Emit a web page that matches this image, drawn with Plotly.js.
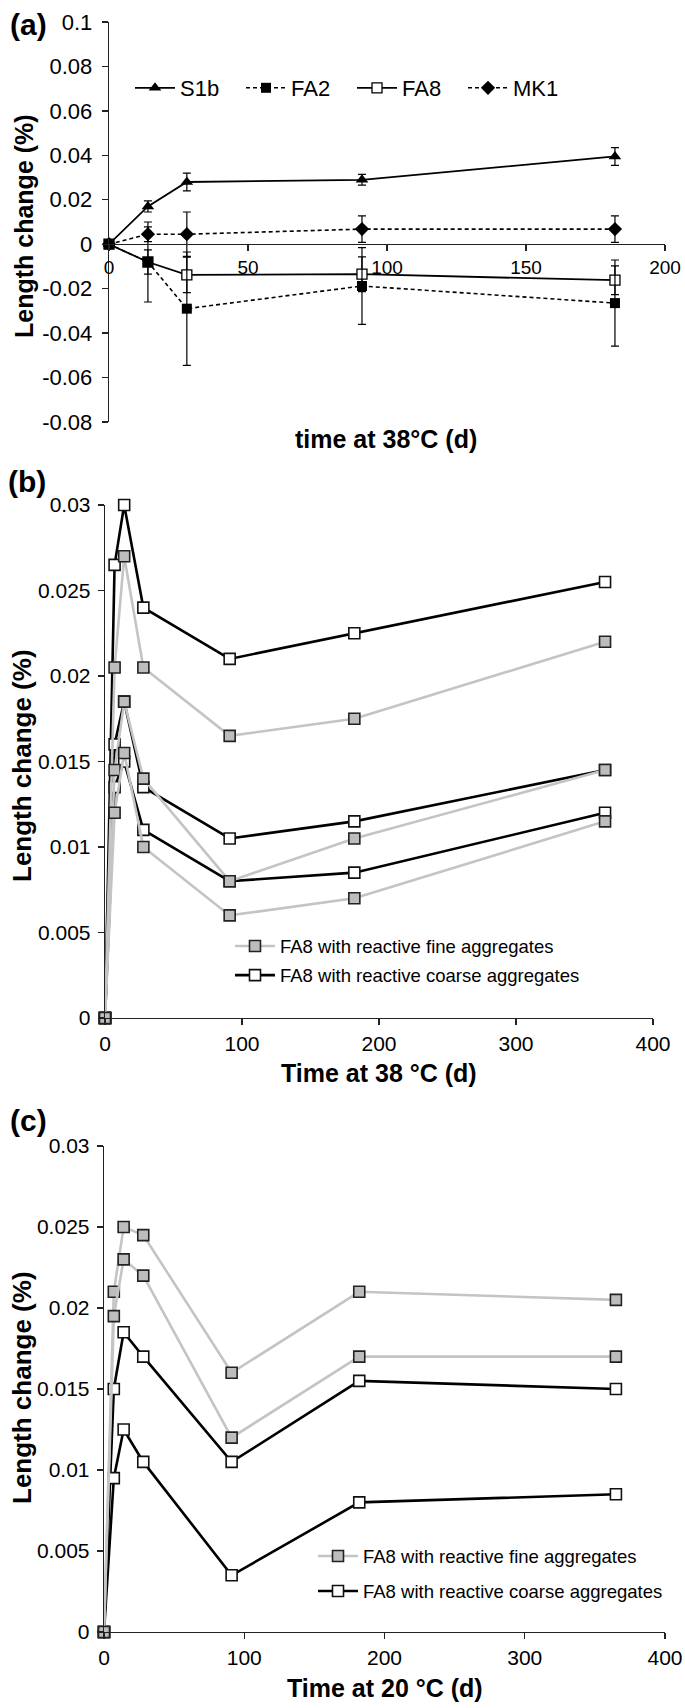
<!DOCTYPE html>
<html><head><meta charset="utf-8">
<script src="https://cdn.plot.ly/plotly-3.0.1.min.js"></script>
<style>
html,body{margin:0;padding:0;background:#fff}
#chart{width:685px;height:1708px}
</style>
</head><body><div id="chart"></div><script>
// ---------- Panel (a) data ----------
const daysA = [0, 14, 28, 91, 182];
const s1b = [0, 0.017, 0.028, 0.029, 0.0395];
const s1bErr = [0, 0.0025, 0.004, 0.0024, 0.004];
const fa2 = [0, -0.008, -0.029, -0.0188, -0.0265];
const fa2Err = [0, 0.018, 0.0255, 0.0173, 0.0194];
const fa8 = [0, -0.008, -0.0138, -0.0135, -0.0162];
const fa8Err = [0, 0.0055, 0.008, 0.0078, 0.0065];
const mk1 = [0, 0.0045, 0.0045, 0.0068, 0.0068];
const mk1Err = [0, 0.0033, 0.010, 0.006, 0.006];
const xTicksA = [0, 50, 100, 150, 200];
const yTicksA = [-0.08, -0.06, -0.04, -0.02, 0, 0.02, 0.04, 0.06, 0.08, 0.1];
const yTickTextA = ["-0.08", "-0.06", "-0.04", "-0.02", "0", "0.02", "0.04", "0.06", "0.08", "0.1"];

// ---------- Panel (b) data (38 °C) ----------
const daysB = [0, 7, 14, 28, 91, 182, 365];
const fineB1 = [0, 0.0205, 0.027, 0.0205, 0.0165, 0.0175, 0.022];
const fineB2 = [0, 0.0145, 0.0185, 0.014, 0.008, 0.0105, 0.0145];
const fineB3 = [0, 0.012, 0.0155, 0.010, 0.006, 0.007, 0.0115];
const coarseB1 = [0, 0.0265, 0.030, 0.024, 0.021, 0.0225, 0.0255];
const coarseB2 = [0, 0.016, 0.0185, 0.0135, 0.0105, 0.0115, 0.0145];
const coarseB3 = [0, 0.0135, 0.015, 0.011, 0.008, 0.0085, 0.012];

// ---------- Panel (c) data (20 °C) ----------
const daysC = [0, 7, 14, 28, 91, 182, 365];
const fineC1 = [0, 0.021, 0.025, 0.0245, 0.016, 0.021, 0.0205];
const fineC2 = [0, 0.0195, 0.023, 0.022, 0.012, 0.017, 0.017];
const coarseC1 = [0, 0.015, 0.0185, 0.017, 0.0105, 0.0155, 0.015];
const coarseC2 = [0, 0.0095, 0.0125, 0.0105, 0.0035, 0.008, 0.0085];

const xTicksBC = [0, 100, 200, 300, 400];
const yTicksBC = [0, 0.005, 0.01, 0.015, 0.02, 0.025, 0.03];
const yTickTextBC = ["0", "0.005", "0.01", "0.015", "0.02", "0.025", "0.03"];

const fineName = "FA8 with reactive fine aggregates";
const coarseName = "FA8 with reactive coarse aggregates";

// ---------- styling ----------
const SANS = '"Liberation Sans", Arial, sans-serif';
const W = 685, H = 1708;
const px = v => v / W;
const py = v => 1 - v / H;

const errStyle = arr => ({type: 'data', array: arr, visible: true, color: '#000', thickness: 1.2, width: 4});

const traces = [];
traces.push({x: daysA, y: s1b, xaxis: 'x', yaxis: 'y', name: 'S1b', legend: 'legend', legendrank: 1,
  mode: 'lines+markers', cliponaxis: false,
  line: {color: '#000', width: 1.8}, marker: {symbol: 'triangle-up', size: 11, color: '#000'},
  error_y: errStyle(s1bErr)});
traces.push({x: daysA, y: fa8, xaxis: 'x', yaxis: 'y', name: 'FA8', legend: 'legend', legendrank: 3,
  mode: 'lines+markers', cliponaxis: false,
  line: {color: '#000', width: 1.8}, marker: {symbol: 'square', size: 10, color: '#fff', line: {color: '#000', width: 1.3}},
  error_y: errStyle(fa8Err)});
traces.push({x: daysA, y: fa2, xaxis: 'x', yaxis: 'y', name: 'FA2', legend: 'legend', legendrank: 2,
  mode: 'lines+markers', cliponaxis: false,
  line: {color: '#000', width: 1.6, dash: '4px,3px'}, marker: {symbol: 'square', size: 10, color: '#000'},
  error_y: errStyle(fa2Err)});
traces.push({x: daysA, y: mk1, xaxis: 'x', yaxis: 'y', name: 'MK1', legend: 'legend', legendrank: 4,
  mode: 'lines+markers', cliponaxis: false,
  line: {color: '#000', width: 1.6, dash: '4px,3px'}, marker: {symbol: 'diamond', size: 11, color: '#000'},
  error_y: errStyle(mk1Err)});

const coarseStyle = {line: {color: '#000', width: 2.6}, marker: {symbol: 'square', size: 11, color: '#fff', line: {color: '#111', width: 1.6}}};
const fineStyle = {line: {color: '#c4c4c4', width: 2.6}, marker: {symbol: 'square', size: 11, color: '#bdbdbd', line: {color: '#222', width: 1.6}}};

function addSeries(xs, ys, ax, ay, leg, style, name, show, rank, group) {
  traces.push(Object.assign({x: xs, y: ys, xaxis: ax, yaxis: ay, legend: leg, name: name,
    showlegend: show, legendrank: rank, legendgroup: group, mode: 'lines+markers', cliponaxis: false}, JSON.parse(JSON.stringify(style))));
}
addSeries(daysB, coarseB1, 'x2', 'y2', 'legend2', coarseStyle, coarseName, true, 2, 'bc');
addSeries(daysB, coarseB2, 'x2', 'y2', 'legend2', coarseStyle, coarseName, false, 2, 'bc');
addSeries(daysB, coarseB3, 'x2', 'y2', 'legend2', coarseStyle, coarseName, false, 2, 'bc');
addSeries(daysB, fineB1, 'x2', 'y2', 'legend2', fineStyle, fineName, true, 1, 'bf');
addSeries(daysB, fineB2, 'x2', 'y2', 'legend2', fineStyle, fineName, false, 1, 'bf');
addSeries(daysB, fineB3, 'x2', 'y2', 'legend2', fineStyle, fineName, false, 1, 'bf');
addSeries(daysC, coarseC1, 'x3', 'y3', 'legend3', coarseStyle, coarseName, true, 2, 'cc');
addSeries(daysC, coarseC2, 'x3', 'y3', 'legend3', coarseStyle, coarseName, false, 2, 'cc');
addSeries(daysC, fineC1, 'x3', 'y3', 'legend3', fineStyle, fineName, true, 1, 'cf');
addSeries(daysC, fineC2, 'x3', 'y3', 'legend3', fineStyle, fineName, false, 1, 'cf');

const axBase = {showline: true, linecolor: '#222', linewidth: 1.3, ticks: 'outside', ticklen: 6,
  tickcolor: '#222', tickwidth: 1.3, showgrid: false, zeroline: false, fixedrange: true, automargin: false,
  ticklabeloverflow: 'allow', tickfont: {family: SANS, size: 21, color: '#000'}};

const ann = (text, x, y, size, angle) => ({text: text, x: px(x), y: py(y), xref: 'paper', yref: 'paper',
  xanchor: 'center', yanchor: 'middle', showarrow: false, textangle: angle || 0,
  font: {family: SANS, size: size, color: '#000'}});

const layout = {
  width: W, height: H, autosize: false, margin: {l: 0, r: 0, t: 0, b: 0, autoexpand: false},
  paper_bgcolor: '#fff', plot_bgcolor: 'rgba(0,0,0,0)', showlegend: true,
  xaxis: Object.assign({}, axBase, {domain: [px(109), px(665)], range: [0, 200], anchor: 'free',
    position: py(244), tickvals: xTicksA, ticktext: xTicksA.map(String), tickfont: {family: SANS, size: 19, color: '#000'}}),
  yaxis: Object.assign({}, axBase, {domain: [py(422), py(22)], range: [-0.08, 0.1], anchor: 'x',
    tickvals: yTicksA, ticktext: yTickTextA, ticklabelstandoff: 5, tickfont: {family: SANS, size: 22, color: '#000'}}),
  xaxis2: Object.assign({}, axBase, {domain: [px(105), px(653)], range: [0, 400], anchor: 'y2',
    tickvals: xTicksBC, ticktext: xTicksBC.map(String)}),
  yaxis2: Object.assign({}, axBase, {domain: [py(1018), py(505)], range: [0, 0.03], anchor: 'x2',
    tickvals: yTicksBC, ticktext: yTickTextBC, ticklabelstandoff: 3}),
  xaxis3: Object.assign({}, axBase, {domain: [px(104), px(665)], range: [0, 400], anchor: 'y3',
    tickvals: xTicksBC, ticktext: xTicksBC.map(String)}),
  yaxis3: Object.assign({}, axBase, {domain: [py(1632), py(1146)], range: [0, 0.03], anchor: 'x3',
    tickvals: yTicksBC, ticktext: yTickTextBC, ticklabelstandoff: 3}),
  legend: {orientation: 'h', xref: 'container', yref: 'container', x: px(130), y: py(88), xanchor: 'left', yanchor: 'middle',
    font: {family: SANS, size: 22, color: '#000'}, bgcolor: 'rgba(0,0,0,0)', itemwidth: 40,
    entrywidth: 56, entrywidthmode: 'pixels', traceorder: 'normal'},
  legend2: {orientation: 'v', xref: 'container', yref: 'container', x: px(230), y: py(961), xanchor: 'left', yanchor: 'middle',
    font: {family: SANS, size: 18.5, color: '#000'}, bgcolor: 'rgba(0,0,0,0)', itemwidth: 40,
    traceorder: 'grouped', tracegroupgap: 2},
  legend3: {orientation: 'v', xref: 'container', yref: 'container', x: px(313), y: py(1574), xanchor: 'left', yanchor: 'middle',
    font: {family: SANS, size: 18.5, color: '#000'}, bgcolor: 'rgba(0,0,0,0)', itemwidth: 40,
    traceorder: 'grouped', tracegroupgap: 8},
  annotations: [
    ann('<b>(a)</b>', 28, 24, 30),
    ann('<b>(b)</b>', 27, 482, 30),
    ann('<b>(c)</b>', 28, 1120, 30),
    ann('<b>Length change (%)</b>', 24, 226, 25, -90),
    ann('<b>Length change (%)</b>', 22, 766, 26, -90),
    ann('<b>Length change (%)</b>', 22, 1388, 26, -90),
    ann('<b>time at 38°C (d)</b>', 386, 439, 25),
    ann('<b>Time at 38 °C (d)</b>', 379, 1073, 25),
    ann('<b>Time at 20 °C (d)</b>', 385, 1688, 25)
  ]
};

Plotly.newPlot('chart', traces, layout, {staticPlot: true, displayModeBar: false});
</script></body></html>
